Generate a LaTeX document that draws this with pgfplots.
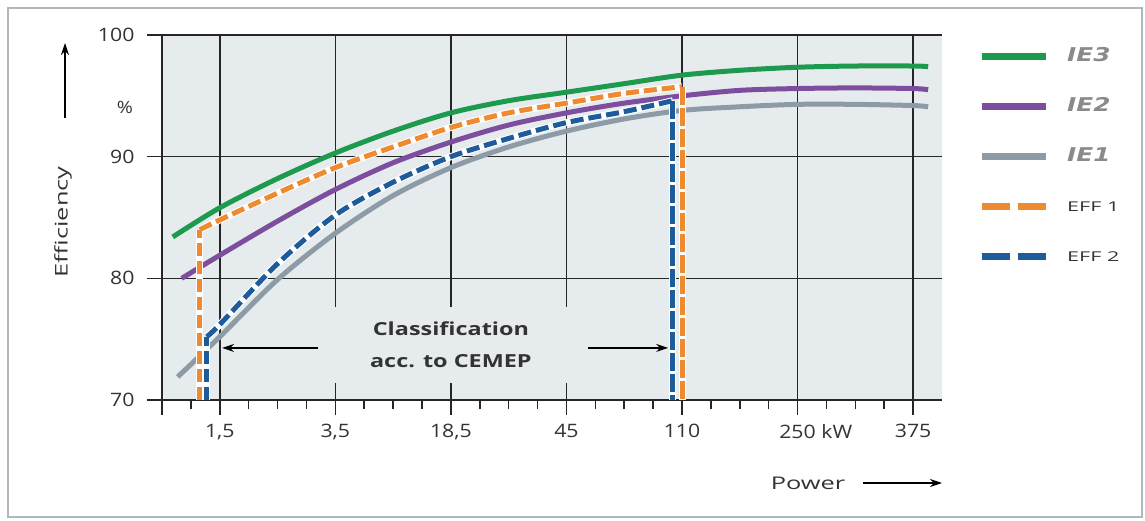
\documentclass[border=0pt]{standalone}
\usepackage{pgfplots}
\pgfplotsset{compat=1.18}
\usepackage{fontspec}
\usetikzlibrary{arrows.meta}
\setmainfont{Open Sans}
\newfontfamily\tickfam[FakeStretch=1.15]{Open Sans}
\newfontfamily\labfam[FakeStretch=1.45]{Open Sans}
\newfontfamily\boxfam[FakeStretch=1.3]{Open Sans}
\newfontfamily\efffam[FakeStretch=1.6]{Open Sans}
\newfontfamily\iefam[FakeStretch=1.3]{DejaVu Sans}
\definecolor{bgc}{HTML}{E6EBEE}
\definecolor{txt}{HTML}{333333}
\definecolor{cgreen}{HTML}{1E9A4E}
\definecolor{cpurple}{HTML}{7D4E9E}
\definecolor{cgrey}{HTML}{8C9BA5}
\definecolor{corange}{HTML}{EE8A30}
\definecolor{cblue}{HTML}{1D5B9B}
\definecolor{framec}{HTML}{B0B8BD}
\definecolor{iec}{HTML}{8A8A8A}
\begin{document}
\begin{tikzpicture}
\begin{axis}[
  at={(162pt,120pt)}, anchor=south west,
  scale only axis, width=780pt, height=365pt,
  xmin=0.5, xmax=7.25, ymin=70, ymax=100,
  axis x line*=bottom, axis y line*=left,
  axis line style={black!85, line width=1.6pt},
  axis background/.style={fill=bgc},
  xtick={0.5,1,2,3,4,5,6,7},
  xticklabels={,{1,5},{3,5},{18,5},45,110,{250\rlap{ kW}},375},
  minor xtick={0.75,1.25,1.5,1.75,2.25,2.5,2.75,3.25,3.5,3.75,4.25,4.5,4.75,5.25,5.5,5.75,6.25,6.5,6.75},
  ytick={70,80,90,100},
  yticklabels={70,80,90,100},
  grid=major,
  major grid style={black!85, line width=1.6pt},
  tick align=outside,
  major tick length=15pt, minor tick length=9pt,
  tick style={black!85, line width=1.6pt},
  ticklabel style={font=\fontsize{18.5}{20}\selectfont\tickfam, text=txt},
  xticklabel style={yshift=-6pt},
  yticklabel style={xshift=-9pt},
  clip=false,
  legend style={at={(1,1)}, anchor=north west, xshift=36pt, yshift=-12pt,
    draw=none, fill=none, inner sep=0pt, row sep=32pt, column sep=18pt,
    nodes={inner sep=0pt, text height=14pt, text depth=4pt}},
  legend cell align=left,
  legend image code/.code={\draw[#1] (0pt,0pt) -- (64pt,0pt);},
]
% IE1 grey
\addplot[cgrey, line width=5pt, smooth, forget plot] coordinates {
(0.636,71.9) (1,75.2) (1.5,79.9) (2,83.7) (2.5,86.8) (3,89.1) (3.5,90.8) (4,92.1) (4.5,93.1) (5,93.8) (5.5,94.1) (6,94.3) (6.5,94.3) (7,94.2) (7.13,94.1)};
% IE2 purple
\addplot[cpurple, line width=5pt, smooth, forget plot] coordinates {
(0.671,80.0) (1,81.9) (1.5,84.7) (2,87.3) (2.5,89.5) (3,91.2) (3.5,92.6) (4,93.6) (4.5,94.4) (5,95.0) (5.5,95.45) (6,95.6) (6.5,95.65) (7,95.6) (7.13,95.5)};
% IE3 green
\addplot[cgreen, line width=5pt, smooth, forget plot] coordinates {
(0.593,83.4) (1,85.8) (1.5,88.2) (2,90.3) (2.5,92.1) (3,93.6) (3.5,94.6) (4,95.3) (4.5,96.0) (5,96.7) (5.5,97.1) (6,97.35) (6.5,97.45) (7,97.45) (7.13,97.4)};
% EFF2 blue
\addplot[white, line width=7pt, forget plot] coordinates {(0.887,70) (0.887,75.2)};
\addplot[white, line width=7pt, smooth, forget plot] coordinates {
(0.887,75.2) (1,76.2) (1.5,81.2) (2,85.2) (2.5,87.9) (3,90.0) (3.5,91.5) (4,92.8) (4.5,93.7) (4.92,94.6)};
\addplot[white, line width=7pt, forget plot] coordinates {(4.92,94.6) (4.92,70)};
\addplot[cblue, line width=5pt, dash pattern=on 13pt off 5pt, forget plot] coordinates {(0.887,70) (0.887,75.2)};
\addplot[cblue, line width=5pt, dash pattern=on 13pt off 5pt, smooth, forget plot] coordinates {
(0.887,75.2) (1,76.2) (1.5,81.2) (2,85.2) (2.5,87.9) (3,90.0) (3.5,91.5) (4,92.8) (4.5,93.7) (4.92,94.6)};
\addplot[cblue, line width=5pt, dash pattern=on 18pt off 3pt, forget plot] coordinates {(4.92,94.6) (4.92,70)};
% EFF1 orange
\addplot[white, line width=7pt, forget plot] coordinates {(0.827,70) (0.827,84.0)};
\addplot[white, line width=7pt, smooth, forget plot] coordinates {
(0.827,84.0) (1,84.8) (1.5,87.0) (2,89.1) (2.5,90.8) (3,92.4) (3.5,93.6) (4,94.4) (4.5,95.2) (5,95.75)};
\addplot[white, line width=7pt, forget plot] coordinates {(5,95.75) (5,70)};
\addplot[corange, line width=5pt, dash pattern=on 13pt off 5pt, forget plot] coordinates {(0.827,70) (0.827,84.0)};
\addplot[corange, line width=5pt, dash pattern=on 13pt off 5pt, smooth, forget plot] coordinates {
(0.827,84.0) (1,84.8) (1.5,87.0) (2,89.1) (2.5,90.8) (3,92.4) (3.5,93.6) (4,94.4) (4.5,95.2) (5,95.75)};
\addplot[corange, line width=5pt, dash pattern=on 18pt off 3pt, forget plot] coordinates {(5,95.75) (5,70)};
% legend
\addlegendimage{cgreen, line width=7pt}
\addlegendentry{\textcolor{iec}{\fontsize{19}{19}\selectfont\iefam\bfseries\itshape IE3}}
\addlegendimage{cpurple, line width=7pt}
\addlegendentry{\textcolor{iec}{\fontsize{19}{19}\selectfont\iefam\bfseries\itshape IE2}}
\addlegendimage{cgrey, line width=7pt}
\addlegendentry{\textcolor{iec}{\fontsize{19}{19}\selectfont\iefam\bfseries\itshape IE1}}
\addlegendimage{corange, line width=7pt, dash pattern=on 28pt off 8pt}
\addlegendentry{\textcolor{txt}{\fontsize{13.5}{14}\selectfont\efffam EFF 1}}
\addlegendimage{cblue, line width=7pt, dash pattern=on 28pt off 8pt}
\addlegendentry{\textcolor{txt}{\fontsize{13.5}{14}\selectfont\efffam EFF 2}}
% classification annotation
\node[fill=bgc, minimum width=268pt, minimum height=76pt, inner sep=0pt, align=center,
  font=\fontsize{18}{32}\selectfont\boxfam\bfseries, text=txt] at (axis cs:3.0,74.53)
  {Classification\\acc. to CEMEP};
\draw[-{Stealth[length=12pt,width=8pt]}, line width=1.3pt] (axis cs:1.85,74.28) -- (axis cs:1.02,74.28);
\draw[-{Stealth[length=12pt,width=8pt]}, line width=1.3pt] (axis cs:4.19,74.28) -- (axis cs:4.88,74.28);
\end{axis}
% axis titles and arrows
\node[font=\fontsize{17}{20}\selectfont\tickfam, text=txt] at (125pt,413pt) {\%};
\draw[-{Stealth[length=12pt,width=8pt]}, line width=1.3pt] (65pt,402pt) -- (65pt,477pt);
\node[rotate=90, font=\fontsize{17.5}{20}\selectfont\labfam, text=txt] at (63pt,298pt) {Efficiency};
\node[font=\fontsize{17.5}{20}\selectfont\labfam, text=txt] at (808pt,37pt) {Power};
\draw[-{Stealth[length=12pt,width=8pt]}, line width=1.3pt] (863pt,37pt) -- (942pt,37pt);
\draw[framec, line width=2pt] (8pt,3pt) rectangle (1142pt,512pt);
\pgfresetboundingbox
\path[use as bounding box] (0pt,0pt) rectangle (1145pt,520pt);
\end{tikzpicture}
\end{document}
